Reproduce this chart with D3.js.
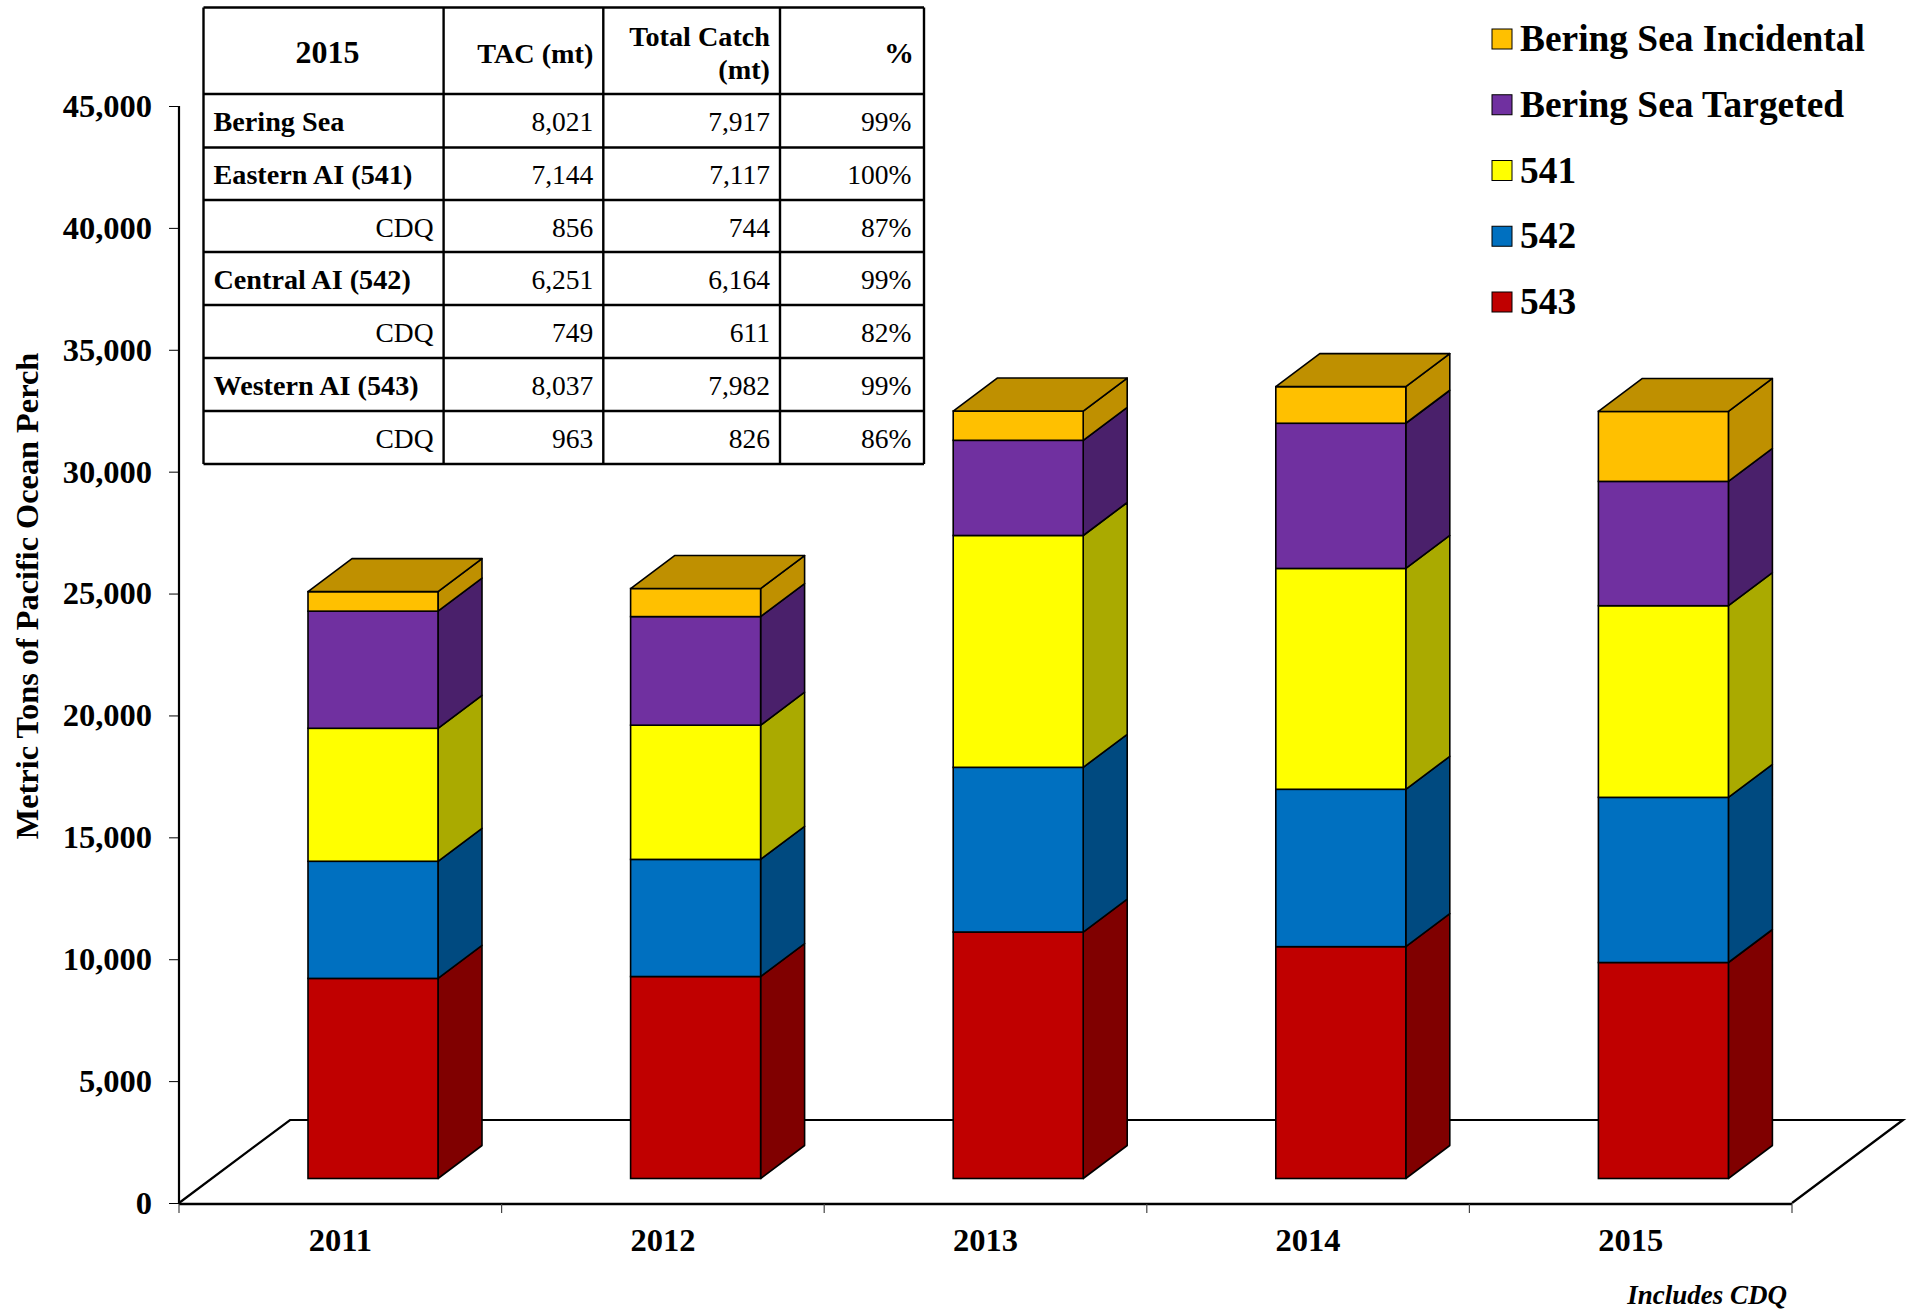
<!DOCTYPE html>
<html><head><meta charset="utf-8">
<script src="https://cdnjs.cloudflare.com/ajax/libs/d3/7.9.0/d3.min.js"></script>
<style>html,body{margin:0;padding:0;background:#fff}svg{display:block}text{font-family:"Liberation Serif",serif;fill:#000}</style>
</head><body><svg id="c" width="1911" height="1310"></svg>
<script>
const years=["2011","2012","2013","2014","2015"];
const seriesNames=["543","542","541","Bering Sea Targeted","Bering Sea Incidental"];
const s543=[8208,8285,10110,9510,8860];
const s542=[4805,4805,6757,6456,6775];
const s541=[5455,5505,9510,9059,7861];
const sBT=[4805,4455,3904,5956,5100];
const sBI=[800,1151,1201,1501,2870];
const frontColors=["#C00000","#0070C0","#FFFF00","#7030A0","#FFC000"];
const sideColors=["#800000","#004A80","#AAAA00","#4A206B","#BF9000"];
const yTicks=[0,5000,10000,15000,20000,25000,30000,35000,40000,45000];
const tableHead=["2015","TAC (mt)","Total Catch|(mt)","%"];
const tableRows=[["Bering Sea","8,021","7,917","99%"],["Eastern AI (541)","7,144","7,117","100%"],["CDQ","856","744","87%"],["Central AI (542)","6,251","6,164","99%"],["CDQ","749","611","82%"],["Western AI (543)","8,037","7,982","99%"],["CDQ","963","826","86%"]];

const svg=d3.select("#c");
const y=d3.scaleLinear().domain([0,45000]).range([1203,106]);
const x=d3.scaleBand().domain(years).range([179,1792]);
const floorDx=111,floorDy=83,midDx=33,midDy=24.5,barW=130,depthDx=44,depthDy=33;
const x0=179,x1=1792,yb=y(0);
// floor
svg.append("path").attr("d",`M${x0},${yb}L${x0+floorDx},${yb-floorDy}L${x1+floorDx},${yb-floorDy}L${x1},${yb}`)
  .attr("fill","none").attr("stroke","#000").attr("stroke-width",2.2);
// axes
const ya=svg.append("g").attr("transform",`translate(${x0},0)`).call(d3.axisLeft(y).tickValues(yTicks).tickSize(10).tickPadding(17).tickFormat(d3.format(",")));
ya.select(".domain").attr("stroke","#000").attr("stroke-width",2.2).attr("d",`M0,${y(45000)}V${yb}`);
ya.selectAll("text").attr("font-size",32.5).attr("font-weight","bold").attr("font-family","Liberation Serif");
const xa=svg.append("g").attr("transform",`translate(0,${yb+1})`).call(d3.axisBottom(x).tickSize(0).tickPadding(24));
xa.select(".domain").attr("stroke","#000").attr("stroke-width",2.4).attr("d",`M${x0},0H${x1}`);
xa.selectAll("text").attr("font-size",32.5).attr("font-weight","bold").attr("font-family","Liberation Serif");
svg.append("g").selectAll("line").data(years.concat(["end"])).join("line")
  .attr("x1",(d,i)=>x0+i*x.step()).attr("x2",(d,i)=>x0+i*x.step()).attr("y1",yb+1).attr("y2",yb+10).attr("stroke","#444").attr("stroke-width",1.2);
// bars
const rows=years.map((yr,i)=>({year:yr,0:s543[i],1:s542[i],2:s541[i],3:sBT[i],4:sBI[i]}));
const stack=d3.stack().keys([0,1,2,3,4])(rows);
const bx=d=>x(d.data.year)+midDx+96;
const by=v=>y(v)-midDy;
const g=svg.append("g");
stack.forEach((s,si)=>{
  const sg=g.append("g");
  sg.selectAll("path.side").data(s).join("path").attr("class","side")
    .attr("d",d=>`M${bx(d)+barW},${by(d[0])}l${depthDx},${-depthDy}V${by(d[1])-depthDy}L${bx(d)+barW},${by(d[1])}Z`)
    .attr("fill",sideColors[si]).attr("stroke","#000").attr("stroke-width",1.6).attr("stroke-linejoin","round");
  sg.selectAll("rect").data(s).join("rect")
    .attr("x",bx).attr("y",d=>by(d[1])).attr("width",barW).attr("height",d=>by(d[0])-by(d[1]))
    .attr("fill",frontColors[si]).attr("stroke","#000").attr("stroke-width",1.6);
  if(si===4){
    sg.selectAll("path.top").data(s).join("path").attr("class","top")
      .attr("d",d=>`M${bx(d)},${by(d[1])}l${depthDx},${-depthDy}h${barW}l${-depthDx},${depthDy}Z`)
      .attr("fill",sideColors[si]).attr("stroke","#000").attr("stroke-width",1.6).attr("stroke-linejoin","round");
  }
});
// y title
svg.append("text").attr("transform","translate(38,596) rotate(-90)").attr("text-anchor","middle")
  .attr("font-size",32.3).attr("font-weight","bold").text("Metric Tons of Pacific Ocean Perch");
// note
svg.append("text").attr("x",1787).attr("y",1304).attr("text-anchor","end").attr("font-size",27)
  .attr("font-weight","bold").attr("font-style","italic").text("Includes CDQ");
// legend
const legY=d3.scalePoint().domain(seriesNames.slice().reverse()).range([39,302]);
const lg=svg.append("g").selectAll("g").data(seriesNames).join("g").attr("transform",d=>`translate(1492,${legY(d)})`);
lg.append("rect").attr("x",0).attr("y",-10).attr("width",20).attr("height",20).attr("stroke","#000").attr("stroke-width",1)
  .attr("fill",(d,i)=>frontColors[i]);
lg.append("text").attr("x",28).attr("y",12).attr("font-size",37.4).attr("font-weight","bold").text(d=>d);
// table
const colX=[203.5,443.6,603.3,780,924];
const rowY=[7.5,94,147.5,200,252,305,358,411,464];
const t=svg.append("g");
t.append("g").selectAll("line").data(colX).join("line").attr("x1",d=>d).attr("x2",d=>d).attr("y1",rowY[0]).attr("y2",rowY[8]).attr("stroke","#000").attr("stroke-width",2.4);
t.append("g").selectAll("line").data(rowY).join("line").attr("y1",d=>d).attr("y2",d=>d).attr("x1",colX[0]).attr("x2",colX[4]).attr("stroke","#000").attr("stroke-width",2.4);
t.append("text").attr("x",(colX[0]+colX[1])/2+4).attr("y",63).attr("text-anchor","middle").attr("font-size",32).attr("font-weight","bold").text(tableHead[0]);
t.append("text").attr("x",colX[2]-10).attr("y",63).attr("text-anchor","end").attr("font-size",28.2).attr("font-weight","bold").text(tableHead[1]);
const tc=tableHead[2].split("|");
t.append("text").attr("x",colX[3]-10).attr("y",46).attr("text-anchor","end").attr("font-size",28.2).attr("font-weight","bold").text(tc[0]);
t.append("text").attr("x",colX[3]-10).attr("y",79).attr("text-anchor","end").attr("font-size",28.2).attr("font-weight","bold").text(tc[1]);
t.append("text").attr("x",colX[4]-10).attr("y",63).attr("text-anchor","end").attr("font-size",30).attr("font-weight","bold").text(tableHead[3]);
tableRows.forEach((r,i)=>{
  const by0=rowY[i+1]+36.5;
  const isCdq=r[0]==="CDQ";
  t.append("text").attr("x",isCdq?colX[1]-10:colX[0]+10).attr("y",by0).attr("text-anchor",isCdq?"end":"start")
    .attr("font-size",isCdq?27.5:28.2).attr("font-weight",isCdq?"normal":"bold").text(r[0]);
  t.append("text").attr("x",colX[2]-10).attr("y",by0).attr("text-anchor","end").attr("font-size",27.5).text(r[1]);
  t.append("text").attr("x",colX[3]-10).attr("y",by0).attr("text-anchor","end").attr("font-size",27.5).text(r[2]);
  t.append("text").attr("x",colX[4]-12.5).attr("y",by0).attr("text-anchor","end").attr("font-size",27.5).text(r[3]);
});
</script></body></html>
